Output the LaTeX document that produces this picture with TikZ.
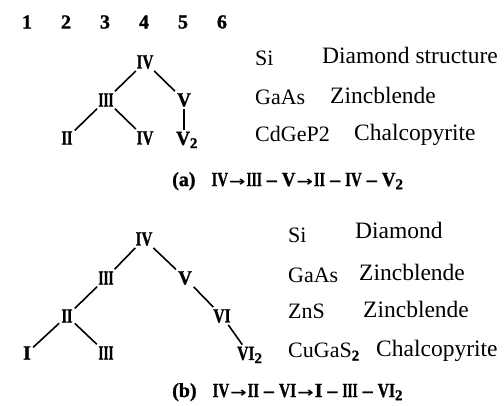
\documentclass[tikz,border=0pt]{standalone}
\usepackage{fontspec}
\usepackage{graphicx}
\setmainfont{Liberation Serif}
\newfontfamily\romfont[BoldFeatures={FakeBold=1.2}]{Liberation Serif}
\newfontfamily\arrowfont{DejaVu Sans}
\usetikzlibrary{positioning}
\newcommand{\rn}[2][0.72]{\scalebox{#1}[1]{\romfont\bfseries #2}}
\newcommand{\rI}{\rn[1]{I}}
\newcommand{\rII}{\rn[0.72]{II}}
\newcommand{\rIII}{\rn[0.65]{III}}
\newcommand{\rIV}{\rn[0.75]{IV}}
\newcommand{\rV}{\rn[0.95]{V}}
\newcommand{\rVI}{\rn[0.78]{VI}}
\newcommand{\subnum}[1]{\raisebox{-0.35ex}{\fontsize{15}{15}\selectfont\romfont\bfseries #1}}
\newcommand{\goesto}{\hspace{1pt}\scalebox{1.4}[1]{\arrowfont\bfseries\fontsize{14}{14}\selectfont →}\hspace{1pt}}
\newcommand{\dsh}{\hspace{5pt}{\romfont\bfseries –}\hspace{5pt}}
\tikzset{
	grp/.style    ={font=\romfont\bfseries\fontsize{20}{20}\selectfont, inner sep=0pt},
	elem/.style   ={font=\fontsize{20}{20}\selectfont, inner sep=2pt},
	bond/.style   ={line width=1.6pt},
	% compound and structure columns
	cmpd/.style   ={anchor=base west, inner sep=0pt, font=\fontsize{22}{22}\selectfont},
	lattice/.style={anchor=base west, inner sep=0pt, font=\fontsize{23.5}{23.5}\selectfont},
	chain/.style  ={anchor=base west, inner sep=0pt, font=\romfont\bfseries\fontsize{20}{20}\selectfont},
}
\begin{document}
\begin{tikzpicture}[x=1pt, y=-1pt]
	\useasboundingbox (0,0) rectangle (504,405);
	\foreach \i in {1,...,6} \node[grp] (g\i) at ({27+39*(\i-1)},22) {\i};
	% (a)
	\node[elem] (a4) at (145,62) {\rIV};
	\node[elem] (a3) at (106,100) {\rIII};
	\node[elem] (a5) at (184,100) {\rV};
	\node[elem] (a2) at (67,138) {\rII};
	\node[elem] (a4b) at (145,138) {\rIV};
	\node[elem, anchor=west] (a5b) at (174,140) {\rV\subnum{2}};
	\draw[bond] (a4) -- (a3); \draw[bond] (a4) -- (a5); \draw[bond] (a3) -- (a2); \draw[bond] (a3) -- (a4b);
	\draw[bond] (a5.south) -- (a5.south |- a5b.north);
	\node[cmpd] (si1) at (255,65) {Si};
	\node[lattice] (dia1) at (322,63) {Diamond structure};
	\node[cmpd] (gaas1) at (255,104) {GaAs};
	\node[lattice] (zb1) at (330,103) {Zincblende};
	\node[cmpd] (cdgep) at (255,141) {CdGeP2};
	\node[lattice] (chal1) at (354,140) {Chalcopyrite};
	\node[chain] (fa) at (172,186) {(a)\hspace{16pt}\rIV\goesto\rIII\dsh\rV\goesto\rII\dsh\rIV\dsh\rV\subnum{2}};
	% (b)
	\node[elem] (b4) at (144,239) {\rIV};
	\node[elem] (b3) at (106,278) {\rIII};
	\node[elem] (b5) at (185,278) {\rV};
	\node[elem] (b2) at (67,316) {\rII};
	\node[elem] (b6) at (222,316) {\rVI};
	\node[elem] (b1) at (27,353) {\rI};
	\node[elem] (b3b) at (106,353) {\rIII};
	\node[elem, anchor=west] (b6b) at (235,355) {\rVI\subnum{2}};
	\draw[bond] (b4) -- (b3); \draw[bond] (b4) -- (b5); \draw[bond] (b3) -- (b2); \draw[bond] (b2) -- (b1);
	\draw[bond] (b2) -- (b3b); \draw[bond] (b5) -- (b6); \draw[bond] (b6) -- (b6b);
	\node[cmpd] (si2) at (288,242) {Si};
	\node[lattice] (dia2) at (355,238) {Diamond};
	\node[cmpd] (gaas2) at (288,282) {GaAs};
	\node[lattice] (zb2) at (359,280) {Zincblende};
	\node[cmpd] (zns) at (288,318) {ZnS};
	\node[lattice] (zb3) at (363,317) {Zincblende};
	\node[cmpd] (cugas) at (288,357) {CuGaS\raisebox{-0.35ex}{\fontsize{15}{15}\selectfont\romfont\bfseries 2}};
	\node[lattice] (chal2) at (376,356) {Chalcopyrite};
	\node[chain] (fb) at (172,397) {(b)\hspace{16pt}\rIV\goesto\rII\dsh\rVI\goesto\rI\dsh\rIII\dsh\rVI\subnum{2}};
\end{tikzpicture}
\end{document}
